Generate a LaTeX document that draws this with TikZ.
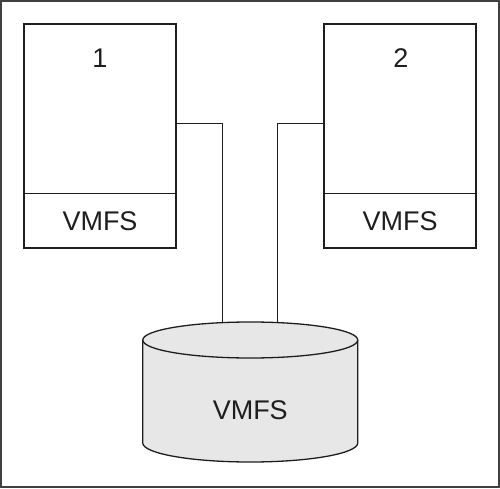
\documentclass[tikz,border=0pt]{standalone}
\usepackage{fontspec}
\setmainfont{Liberation Sans}
\definecolor{cylfill}{RGB}{231,231,231}
\definecolor{ink}{RGB}{30,30,30}
\begin{document}
\begin{tikzpicture}[x=1pt,y=1pt,
  box/.style={draw=ink, line width=1.4pt, minimum width=152pt, minimum height=224pt, inner sep=0pt},
  lbl/.style={font=\fontsize{27}{27}\selectfont, text=ink, inner sep=0pt},
  wire/.style={draw=ink, line width=1pt},
  cylline/.style={draw=ink, line width=1.3pt}]
\useasboundingbox (0,0) rectangle (500,488);
\draw[line width=1.6pt, black!75] (1,1) rectangle (499,487);
% servers
\node[box] (b1) at (100,352) {};
\node[box] (b2) at (400,352) {};
\draw[draw=ink, line width=1pt] (b1.west |- 0,295) -- (b1.east |- 0,295);
\draw[draw=ink, line width=1pt] (b2.west |- 0,295) -- (b2.east |- 0,295);
\node[lbl] (n1) at (100,430) {1};
\node[lbl] (n2) at (401,430) {2};
\node[lbl] (v1) at (100,267) {VMFS};
\node[lbl] (v2) at (400,267) {VMFS};
% datastore cylinder
\fill[cylfill] (142.75,148) -- (142.75,45) arc[start angle=180,end angle=360,x radius=107.5,y radius=19] -- (357.75,148) arc[start angle=0,end angle=180,x radius=107.5,y radius=18] -- cycle;
\draw[cylline] (142.75,148) -- (142.75,45) arc[start angle=180,end angle=360,x radius=107.5,y radius=19] -- (357.75,148);
\draw[cylline] (250.25,148) ellipse[x radius=107.5, y radius=18];
\node[lbl] (cyl) at (250.25,78) {VMFS};
\coordinate (t1) at (222,165.4);
\coordinate (t2) at (277,165.4);
% connectors
\draw[wire] (b1.east |- 0,364) -| (t1);
\draw[wire] (b2.west |- 0,364) -| (t2);
\end{tikzpicture}
\end{document}
